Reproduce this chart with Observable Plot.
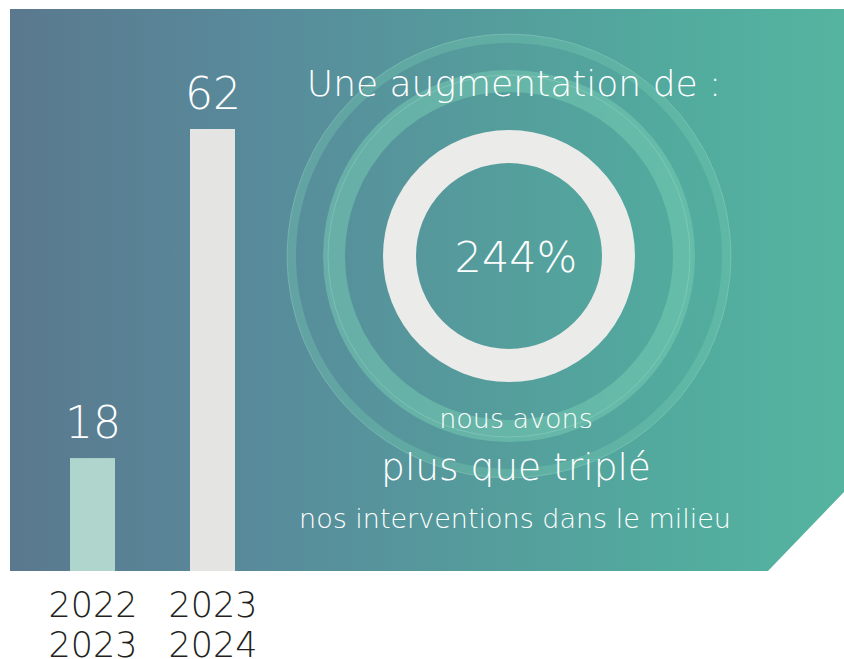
<!DOCTYPE html>
<html><head><meta charset="utf-8">
<script src="https://cdn.jsdelivr.net/npm/d3@7"></script>
<script src="https://cdn.jsdelivr.net/npm/@observablehq/plot@0.6"></script>
<style>html,body{margin:0;padding:0;background:#fff} svg{display:block}</style>
</head><body><div id="chart"></div>
<script>
// ---- data ----
const periods = ["2022\n2023", "2023\n2024"];
const values = [18, 62];
const barColors = ["#b0d5cc", "#e4e4e3"];
const headline = "Une augmentation de :";
const line1 = "nous avons";
const line2 = "plus que triplé";
const line3 = "nos interventions dans le milieu";

const data = periods.map((p, i) => ({period: p, value: values[i], color: barColors[i]}));
const growth = (values[1] - values[0]) / values[0];
const pctLabel = d3.format(".0%")(growth);
const yBase = 2.9;
const font = "'DejaVu Sans', sans-serif";

const chart = Plot.plot({
  width: 844, height: 659,
  marginTop: 0, marginRight: 0, marginBottom: 88, marginLeft: 0,
  style: {fontFamily: font, background: "transparent", overflow: "visible"},
  x: {type: "band", domain: periods, range: [32.5, 272.5], paddingInner: 0.625, paddingOuter: 0.3125, axis: null},
  y: {domain: [yBase, 62], range: [571, 129], axis: null},
  color: {type: "identity"},
  marks: [
    Plot.barY(data, {x: "period", y1: yBase, y2: "value", fill: "color"}),
    Plot.text(data, {x: "period", y: "value", text: d => String(d.value), lineAnchor: "bottom", dy: -21,
      fill: "white", fontSize: 44, fontWeight: 200}),
    Plot.text(data, {x: "period", y: yBase, text: "period", lineAnchor: "top", dy: 17, lineHeight: 1.15,
      fill: "#231f20", fontSize: 35, fontWeight: 200})
  ]
});

// ---- decoration: background panel, rings and central texts ----
const svg = d3.select(chart);
const deco = svg.insert("g", ":first-child");
const defs = deco.append("defs");
const grad = defs.append("linearGradient").attr("id", "bg").attr("gradientUnits", "userSpaceOnUse")
  .attr("x1", 10).attr("x2", 844).attr("y1", 0).attr("y2", 0);
[[0, "#5a788e"], [0.3, "#588b9b"], [0.55, "#559b9c"], [0.8, "#52ab9e"], [1, "#55b4a0"]]
  .forEach(([o, c]) => grad.append("stop").attr("offset", o).attr("stop-color", c));
deco.append("path").attr("d", "M10,9H844V492L768,571H10Z").attr("fill", "url(#bg)");

const cx = 509, cy = 256;
const ringCol = "rgb(120,205,180)";
deco.append("circle").attr("cx", cx).attr("cy", cy).attr("r", 217.5).attr("fill", "none")
  .attr("stroke", ringCol).attr("stroke-opacity", 0.33).attr("stroke-width", 9);
deco.append("circle").attr("cx", cx).attr("cy", cy).attr("r", 222).attr("fill", "none")
  .attr("stroke", "#a8ddd0").attr("stroke-opacity", 0.4).attr("stroke-width", 0.8);
deco.append("circle").attr("cx", cx).attr("cy", cy).attr("r", 175).attr("fill", "none")
  .attr("stroke", ringCol).attr("stroke-opacity", 0.5).attr("stroke-width", 22);
deco.append("circle").attr("cx", cx).attr("cy", cy).attr("r", 181).attr("fill", "none")
  .attr("stroke", "#b8e6da").attr("stroke-opacity", 0.35).attr("stroke-width", 0.8);
deco.append("circle").attr("cx", cx).attr("cy", cy).attr("r", 109.5).attr("fill", "none")
  .attr("stroke", "#ebebea").attr("stroke-width", 33);

const tg = svg.append("g").attr("fill", "white").attr("text-anchor", "middle")
  .attr("font-family", font).attr("font-weight", 200);
tg.append("text").attr("x", 514).attr("y", 96).attr("font-size", 36).text(headline);
tg.append("text").attr("x", 516).attr("y", 272).attr("font-size", 43).text(pctLabel);
tg.append("text").attr("x", 516).attr("y", 428).attr("font-size", 27).text(line1);
tg.append("text").attr("x", 516).attr("y", 480).attr("font-size", 37.5).text(line2);
tg.append("text").attr("x", 515).attr("y", 528).attr("font-size", 27).text(line3);

document.getElementById("chart").appendChild(chart);
</script>
</body></html>
